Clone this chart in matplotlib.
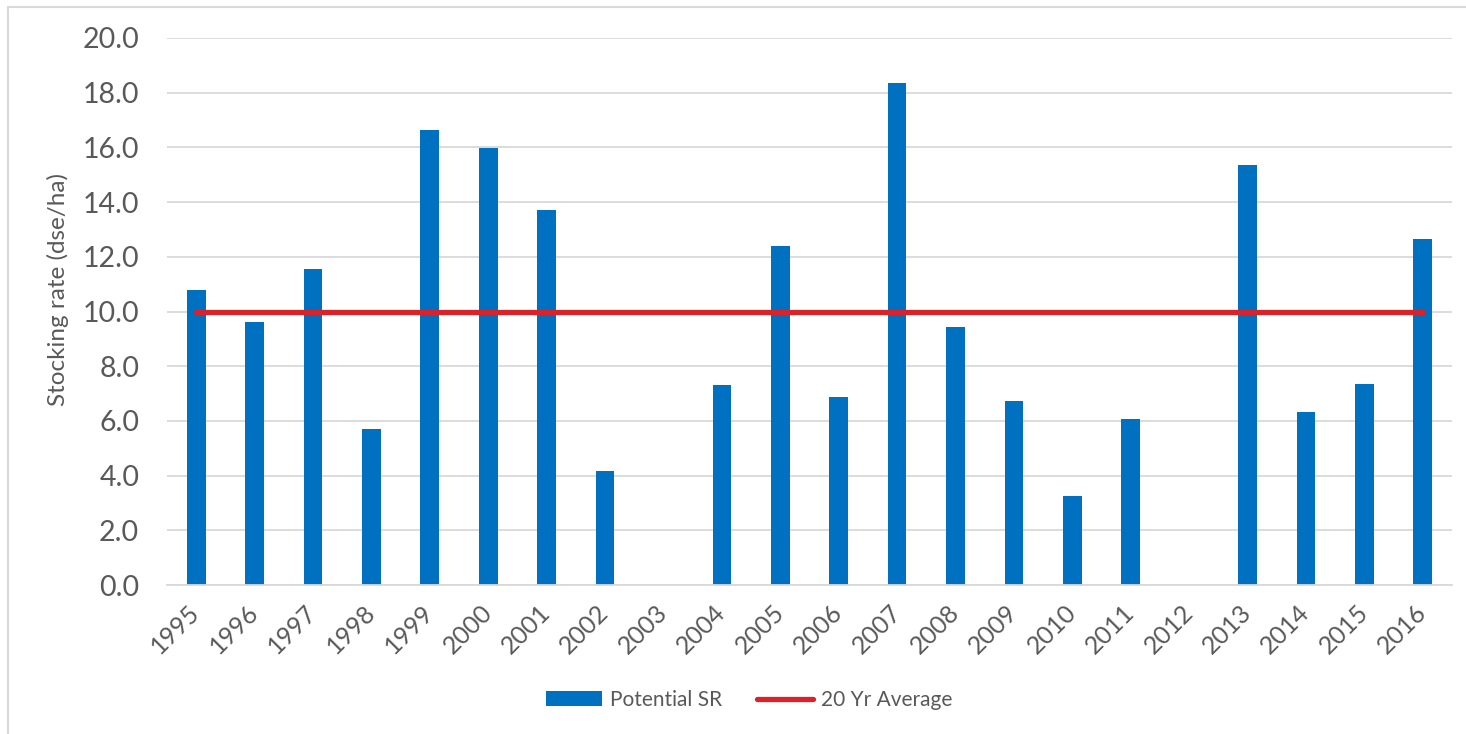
import numpy as np
import matplotlib.pyplot as plt
from matplotlib.patches import Rectangle

plt.rcParams['font.family'] = ['Lato', 'DejaVu Sans']

# data
years = ['1995', '1996', '1997', '1998', '1999', '2000', '2001', '2002', '2003', '2004', '2005',
         '2006', '2007', '2008', '2009', '2010', '2011', '2012', '2013', '2014', '2015', '2016']
potential_sr = [10.8, 9.6, 11.55, 5.72, 16.64, 15.97, 13.71, 4.17, np.nan, 7.33, 12.40,
                6.87, 18.34, 9.44, 6.74, 3.26, 6.07, np.nan, 15.37, 6.33, 7.34, 12.65]
avg_20yr = [10.0] * len(years)

text_col = '#595959'
grid_col = '#D9D9D9'

fig = plt.figure(figsize=(14.66, 7.34), dpi=100)
ax = fig.add_axes([167 / 1466, 1 - 585 / 734, (1452 - 167) / 1466, (585 - 38) / 734])

x = np.arange(len(years))
bars = ax.bar(x, potential_sr, width=0.32, color='#0070C0', label='Potential SR', zorder=2)
line, = ax.plot(x, avg_20yr, color='#D8232A', lw=3.8, solid_capstyle='round',
                label='20 Yr Average', zorder=3)

ax.set_xlim(-0.5, len(years) - 0.5)
ax.set_ylim(0, 20)
ax.set_yticks(np.arange(0, 21, 2))
ax.set_yticklabels([f'{v:.1f}' for v in np.arange(0, 21, 2)])
ax.set_xticks(x)
ax.set_xticklabels(years, rotation=45, ha='right', va='center', rotation_mode='anchor')

ax.tick_params(axis='y', length=0, pad=20, labelsize=20.5, labelcolor=text_col)
ax.tick_params(axis='x', length=0, pad=17, labelsize=18, labelcolor=text_col)
ax.grid(axis='y', color=grid_col, lw=1.3, zorder=0)
ax.set_axisbelow(True)
for s in ['top', 'right', 'left']:
    ax.spines[s].set_visible(False)
ax.spines['bottom'].set_color(grid_col)
ax.spines['bottom'].set_linewidth(1.3)

fig.text(58 / 1466, 1 - 290 / 734, 'Stocking rate (dse/ha)', rotation=90,
         ha='center', va='center', fontsize=17.5, color=text_col)

fig.legend([bars, line], ['Potential SR', '20 Yr Average'], loc='center',
           bbox_to_anchor=(749 / 1466, 1 - 700 / 734), ncol=2, frameon=False,
           fontsize=15, labelcolor=text_col, handlelength=2.7, handletextpad=0.35,
           columnspacing=1.7)

# chart border
fig.patches.append(Rectangle((8 / 1466, -0.1), 1.2, 1 - 7 / 734 + 0.1, transform=fig.transFigure,
                             fill=False, edgecolor=grid_col, lw=1.5))

fig.savefig('out.png', dpi=100)
